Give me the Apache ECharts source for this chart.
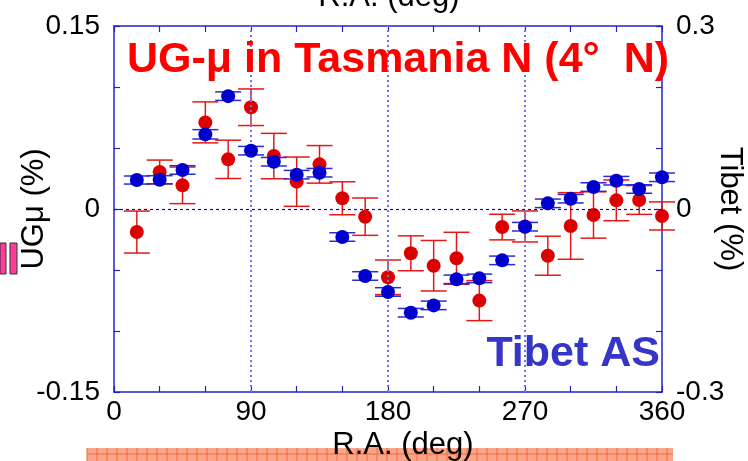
<!DOCTYPE html>
<html>
<head>
<meta charset="utf-8">
<script src="https://cdn.jsdelivr.net/npm/echarts@6/dist/echarts.min.js"></script>
<style>
html, body { margin: 0; padding: 0; background: #fff; }
#main { width: 748px; height: 461px; }
</style>
</head>
<body>
<div id="main"></div>
<script>
// R.A. bins (deg)
var raBins = [15, 30, 45, 60, 75, 90, 105, 120, 135, 150, 165, 180,
              195, 210, 225, 240, 255, 270, 285, 300, 315, 330, 345, 360];
// UG-mu Tasmania N amplitude (%) and errors -> left axis
var ugmuVal = [-0.0189, 0.0303, 0.0194, 0.071, 0.0407, 0.0834, 0.0434, 0.0224, 0.0366, 0.0088, -0.0063, -0.056,
               -0.0363, -0.0465, -0.0404, -0.0751, -0.0148, -0.0143, -0.0383, -0.0139, -0.0049, 0.0071, 0.0074, -0.0057];
var ugmuErr = [0.0172, 0.0098, 0.015, 0.0168, 0.0157, 0.015, 0.0186, 0.0202, 0.0154, 0.0135, 0.0153, 0.0142,
               0.0143, 0.0207, 0.0213, 0.0164, 0.0105, 0.0127, 0.016, 0.0273, 0.019, 0.0167, 0.0118, 0.0115];
// Tibet AS amplitude (%) and errors -> right axis
var tibetVal = [0.0475, 0.048, 0.064, 0.1224, 0.185, 0.0956, 0.0775, 0.0563, 0.0595, -0.0459, -0.1098, -0.136,
                -0.170, -0.158, -0.1153, -0.1137, -0.0842, -0.029, 0.0093, 0.0169, 0.036, 0.0464, 0.0328, 0.052];
var tibetErr = [0.0066, 0.0066, 0.007, 0.0077, 0.007, 0.007, 0.007, 0.007, 0.007, 0.007, 0.007, 0.007,
                0.007, 0.007, 0.007, 0.007, 0.007, 0.007, 0.007, 0.007, 0.007, 0.007, 0.007, 0.007];
// tick labels
var xTicks = [0, 90, 180, 270, 360];
var leftTicks = [-0.15, 0, 0.15];
var rightTicks = [-0.3, 0, 0.3];
var raGuides = [90, 180, 270];

var RED = '#dd0000';
var BLUE = '#0000cc';
var FRAME = '#2222cc';
var FONT = '"Liberation Sans", Arial, sans-serif';

function pairs(xs, ys, es) {
	var out = [];
	for (var i = 0; i < xs.length; i++) {
		out.push(es ? [xs[i], ys[i], es[i]] : [xs[i], ys[i]]);
	}
	return out;
}

function pick(list) {
	return function(v) {
		for (var i = 0; i < list.length; i++) {
			if (Math.abs(v - list[i]) < 1e-9) return String(list[i]);
		}
		return '';
	};
}

function errRender(color) {
	return function(params, api) {
		var x = api.value(0), y = api.value(1), e = api.value(2);
		var hi = api.coord([x, y + e]);
		var lo = api.coord([x, y - e]);
		var w = 13;
		var st = { stroke: color, lineWidth: 1.5 };
		return {
			type: 'group',
			children: [
				{ type: 'line', shape: { x1: hi[0], y1: hi[1], x2: lo[0], y2: lo[1] }, style: st },
				{ type: 'line', shape: { x1: hi[0] - w, y1: hi[1], x2: hi[0] + w, y2: hi[1] }, style: st },
				{ type: 'line', shape: { x1: lo[0] - w, y1: lo[1], x2: lo[0] + w, y2: lo[1] }, style: st }
			]
		};
	};
}

// hatched strip at the bottom
var hatch = [];
hatch.push({ type: 'rect', shape: { x: 87, y: 448, width: 586, height: 14 }, style: { fill: '#f8a58a' }, z: 1 });
for (var hx = 87; hx <= 673; hx += 10) {
	hatch.push({ type: 'line', shape: { x1: hx, y1: 448, x2: hx, y2: 461 }, style: { stroke: '#f46a3c', lineWidth: 1 }, z: 1 });
}
hatch.push({ type: 'line', shape: { x1: 87, y1: 454, x2: 673, y2: 454 }, style: { stroke: '#f46a3c', lineWidth: 1 }, z: 1 });

function frameAxis(extra) {
	return Object.assign({
		type: 'value',
		axisLine: { show: true, onZero: false, lineStyle: { color: FRAME, width: 1.5 } },
		axisTick: { show: true, inside: true, length: 6, lineStyle: { color: FRAME, width: 1.2 } },
		splitLine: { show: false }
	}, extra);
}

var myChart = echarts.init(document.getElementById('main'));
var axisTxt = { color: '#000', fontSize: 28, fontFamily: FONT };
var option = {
	animation: false,
	grid: { left: 114, right: 86, top: 26, bottom: 69, outerBoundsMode: 'none', containLabel: false },
	xAxis: [
		frameAxis({ min: 0, max: 360, interval: 30, position: 'bottom',
			axisLabel: Object.assign({ margin: 6, formatter: pick(xTicks) }, axisTxt) }),
		frameAxis({ min: 0, max: 360, interval: 30, position: 'top', axisLabel: { show: false } })
	],
	yAxis: [
		frameAxis({ min: -0.15, max: 0.15, interval: 0.05, position: 'left',
			name: 'UGμ (%)', nameLocation: 'middle', nameGap: 64, nameMoveOverlap: false,
			nameTextStyle: { color: '#000', fontSize: 31, fontFamily: FONT },
			axisLabel: Object.assign({ margin: 14, formatter: pick(leftTicks) }, axisTxt) }),
		frameAxis({ min: -0.3, max: 0.3, interval: 0.1, position: 'right',
			name: 'Tibet (%)', nameLocation: 'middle', nameGap: 52, nameRotate: -90, nameMoveOverlap: false,
			nameTextStyle: { color: '#000', fontSize: 31, fontFamily: FONT },
			axisLabel: Object.assign({ margin: 14, formatter: pick(rightTicks) }, axisTxt) })
	],
	series: [{
		name: 'guides', type: 'line', data: [], xAxisIndex: 0, yAxisIndex: 0,
		markLine: {
			silent: true, symbol: 'none', label: { show: false }, animation: false,
			data: raGuides.map(function(g) {
				return { xAxis: g, lineStyle: { color: '#7373ee', width: 2, type: [2, 3] } };
			}).concat([{ yAxis: 0, lineStyle: { color: '#10109a', width: 1.2, type: [3, 3] } }])
		}
	}, {
		name: 'UGmu err', type: 'custom', xAxisIndex: 0, yAxisIndex: 0,
		renderItem: errRender('#e41818'), data: pairs(raBins, ugmuVal, ugmuErr), z: 2
	}, {
		name: 'UGmu', type: 'scatter', xAxisIndex: 0, yAxisIndex: 0, symbolSize: 14,
		itemStyle: { color: RED, opacity: 1 }, data: pairs(raBins, ugmuVal), z: 3
	}, {
		name: 'Tibet err', type: 'custom', xAxisIndex: 0, yAxisIndex: 1,
		renderItem: errRender('#2a2ad8'), data: pairs(raBins, tibetVal, tibetErr), z: 4
	}, {
		name: 'Tibet', type: 'scatter', xAxisIndex: 0, yAxisIndex: 1, symbolSize: 14,
		itemStyle: { color: BLUE, opacity: 1 }, data: pairs(raBins, tibetVal), z: 5
	}],
	graphic: hatch.concat([
		{ type: 'text', x: 127, y: 60, z: 10, style: { text: 'UG-μ in Tasmania N (4°  N)', fill: '#ff0000', font: 'bold 43px ' + FONT, align: 'left', verticalAlign: 'middle' } },
		{ type: 'text', x: 660, y: 354, z: 10, style: { text: 'Tibet AS', fill: '#3535c8', font: 'bold 43px ' + FONT, align: 'right', verticalAlign: 'middle' } },
		{ type: 'text', x: 389, y: -3, z: 10, style: { text: 'R.A. (deg)', fill: '#000', font: '31px ' + FONT, align: 'center', verticalAlign: 'middle' } },
		{ type: 'text', x: 403, y: 445, z: 10, style: { text: 'R.A. (deg)', fill: '#000', font: '31px ' + FONT, align: 'center', verticalAlign: 'middle' } },
		{ type: 'rect', shape: { x: 0, y: 243, width: 6, height: 31 }, style: { fill: '#ff3d9a', stroke: '#333', lineWidth: 1 } },
		{ type: 'rect', shape: { x: 10, y: 243, width: 7, height: 31 }, style: { fill: '#ff3d9a', stroke: '#333', lineWidth: 1 } }
	])
};
myChart.setOption(option);
</script>
</body>
</html>
